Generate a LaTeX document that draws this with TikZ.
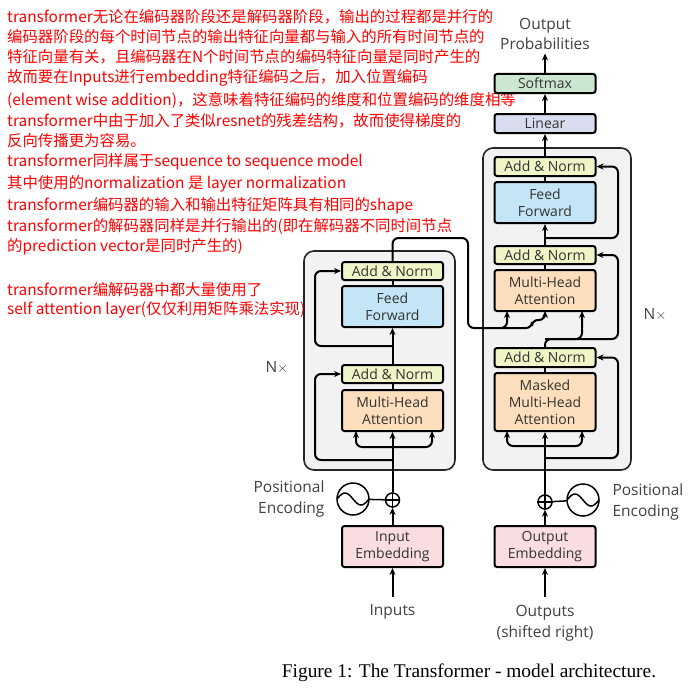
\documentclass[tikz,border=0pt]{standalone}
\usepackage{fontspec}
\setmainfont{Liberation Serif}
\newfontfamily\cjk{Noto Sans CJK SC}
\newfontfamily\diag{Open Sans}
\usetikzlibrary{arrows.meta}

\definecolor{normc}{HTML}{F1F4C6}
\definecolor{ffc}{HTML}{C4E5F5}
\definecolor{attc}{HTML}{FDDFBD}
\definecolor{embc}{HTML}{FADDE0}
\definecolor{linc}{HTML}{DADDF0}
\definecolor{softc}{HTML}{CCE7D0}
\definecolor{blockc}{HTML}{F2F2F2}

\begin{document}
\begin{tikzpicture}[x=1pt,y=-1pt,
    layer/.style={draw=black, line width=2pt, rounded corners=2.5pt, minimum width=101pt,
      font=\diag\fontsize{14}{17}\selectfont, text=black!80, align=center, inner sep=0pt},
    block/.style={draw=black!85, line width=1.6pt, fill=blockc, rounded corners=10pt},
    flow/.style={line width=2pt, -{Stealth[length=7pt,width=6pt]}, rounded corners=6pt},
    line/.style={line width=2pt, rounded corners=6pt},
    lbl/.style={font=\diag\fontsize{15.5}{20.5}\selectfont, text=black!75, align=center},
    note/.style={anchor=west, font=\cjk\fontsize{15.4}{17}\selectfont, text=red, inner sep=0pt}]
  \useasboundingbox (0,0) rectangle (696,693);

  % annotations
  \foreach \y/\t in {17/{transformer无论在编码器阶段还是解码器阶段，输出的过程都是并行的},
      37/{编码器阶段的每个时间节点的输出特征向量都与输入的所有时间节点的},
      57/{特征向量有关，且编码器在N个时间节点的编码特征向量是同时产生的},
      78/{故而要在Inputs进行embedding特征编码之后，加入位置编码},
      100/{(element wise addition)，这意味着特征编码的维度和位置编码的维度相等},
      121/{transformer中由于加入了类似resnet的残差结构，故而使得梯度的},
      141/{反向传播更为容易。},
      162/{transformer同样属于sequence to sequence model},
      184/{其中使用的normalization 是 layer normalization},
      206/{transformer编码器的输入和输出特征矩阵具有相同的shape},
      227/{transformer的解码器同样是并行输出的(即在解码器不同时间节点},
      247/{的prediction vector是同时产生的)},
      290/{transformer编解码器中都大量使用了},
      310/{self attention layer(仅仅利用矩阵乘法实现)。}}
    \node[note] at (7,\y) {\t};

  % blocks
  \draw[block] (304,251) rectangle (455,470);
  \draw[block] (483,148) rectangle (631,470);

  % encoder
  \node[layer, fill=normc, minimum height=18pt] (encnorm2) at (392.5,271) {Add \& Norm};
  \node[layer, fill=ffc, minimum height=41pt] (encff) at (392.5,306.5) {Feed\\Forward};
  \node[layer, fill=normc, minimum height=18pt] (encnorm1) at (392.5,374) {Add \& Norm};
  \node[layer, fill=attc, minimum height=41pt] (encatt) at (392.5,410.5) {Multi-Head\\Attention};
  \node[layer, fill=embc, minimum height=41pt] (inemb) at (392.5,546.5) {Input\\Embedding};
  \node[draw, line width=1.5pt, circle, minimum size=14pt, inner sep=0pt] (encplus) at (392.5,500) {};
  \draw[line width=1.5pt] (encplus.north) -- (encplus.south) (encplus.west) -- (encplus.east);
  \node[draw, line width=1.5pt, circle, minimum size=32pt, inner sep=0pt] (encpos) at (353,499) {};
  \draw[line width=1.5pt, shift={(353,499)}, domain=-16:16, samples=40] plot (\x,{6*sin(\x*11.25)});
  \node[lbl, align=right, anchor=east] (encposlbl) at (328,499) {Positional\\Encoding};
  \node[lbl] (inputs) at (392.5,612) {Inputs};
  \node[lbl] (encn) at (277,368) {N$\times$};
  \coordinate (inbot) at (392.5,597);

  \draw[flow] (inbot) -- (inemb);
  \draw[flow] (inemb) -- (encplus);
  \draw[line width=1.5pt] (encpos) -- (encplus);
  \draw[flow] (encplus) -- (encatt);
  \draw[flow] (392.5,447) -| (356,431);
  \draw[flow] (392.5,447) -| (432,431);
  \draw[flow] (392.5,460) -| (315,374) -- (encnorm1.west);
  \draw[line] (encatt) -- (encnorm1);
  \draw[flow] (encnorm1) -- (encff);
  \draw[flow] (392.5,346) -| (315,271) -- (encnorm2.west);
  \draw[line] (encff) -- (encnorm2);

  % decoder
  \node[layer, fill=softc, minimum height=19pt] (softmax) at (545,83.5) {Softmax};
  \node[layer, fill=linc, minimum height=19pt] (linear) at (545,123.5) {Linear};
  \node[layer, fill=normc, minimum height=19pt] (decnorm3) at (545,166.5) {Add \& Norm};
  \node[layer, fill=ffc, minimum height=41pt] (decff) at (545,202.5) {Feed\\Forward};
  \node[layer, fill=normc, minimum height=18pt] (decnorm2) at (545,255) {Add \& Norm};
  \node[layer, fill=attc, minimum height=41pt] (decatt) at (545,290.5) {Multi-Head\\Attention};
  \node[layer, fill=normc, minimum height=19pt] (decnorm1) at (545,357.5) {Add \& Norm};
  \node[layer, fill=attc, minimum height=58pt] (decmatt) at (545,402) {Masked\\Multi-Head\\Attention};
  \node[layer, fill=embc, minimum height=41pt] (outemb) at (545,546.5) {Output\\Embedding};
  \node[draw, line width=1.5pt, circle, minimum size=14pt, inner sep=0pt] (decplus) at (545,502) {};
  \draw[line width=1.5pt] (decplus.north) -- (decplus.south) (decplus.west) -- (decplus.east);
  \node[draw, line width=1.5pt, circle, minimum size=32pt, inner sep=0pt] (decpos) at (583,500) {};
  \draw[line width=1.5pt, shift={(583,500)}, domain=-16:16, samples=40] plot (\x,{6*sin(\x*11.25)});
  \node[lbl, align=left, anchor=west] (decposlbl) at (609,502) {Positional\\Encoding};
  \node[lbl] (outputs) at (545,623) {Outputs\\(shifted right)};
  \node[lbl] (probs) at (545,34) {Output\\Probabilities};
  \node[lbl] (decn) at (655,315) {N$\times$};
  \coordinate (outbot) at (545,597);

  \draw[flow] (outbot) -- (outemb);
  \draw[flow] (outemb) -- (decplus);
  \draw[line width=1.5pt] (decpos) -- (decplus);
  \draw[flow] (decplus) -- (decmatt);
  \draw[flow] (545,446) -| (507,431);
  \draw[flow] (545,446) -| (582,431);
  \draw[flow] (545,458) -| (618,357.5) -- (decnorm1.east);
  \draw[line] (decmatt) -- (decnorm1);
  \draw[flow] (decnorm1) -- (545,339) -| (582,311);
  \draw[flow] (545,339) -| (618,255) -- (decnorm2.east);
  \draw[line] (decatt) -- (decnorm2);
  \draw[flow] (decnorm2) -- (decff);
  \draw[flow] (545,238) -| (618,166.5) -- (decnorm3.east);
  \draw[line] (decff) -- (decnorm3);
  \draw[flow] (decnorm3) -- (linear);
  \draw[flow] (linear) -- (softmax);
  \draw[flow] (softmax) -- (probs);

  % encoder to decoder
  \draw[flow] (encnorm2) -- (392.5,238) -| (468,328) -| (507,311);
  \draw[flow] (500,328) -| (532,320) -| (545,311);

  \node[font=\fontsize{19.4}{22}\selectfont] (caption) at (469,673) {Figure 1: The Transformer - model architecture.};
\end{tikzpicture}
\end{document}
